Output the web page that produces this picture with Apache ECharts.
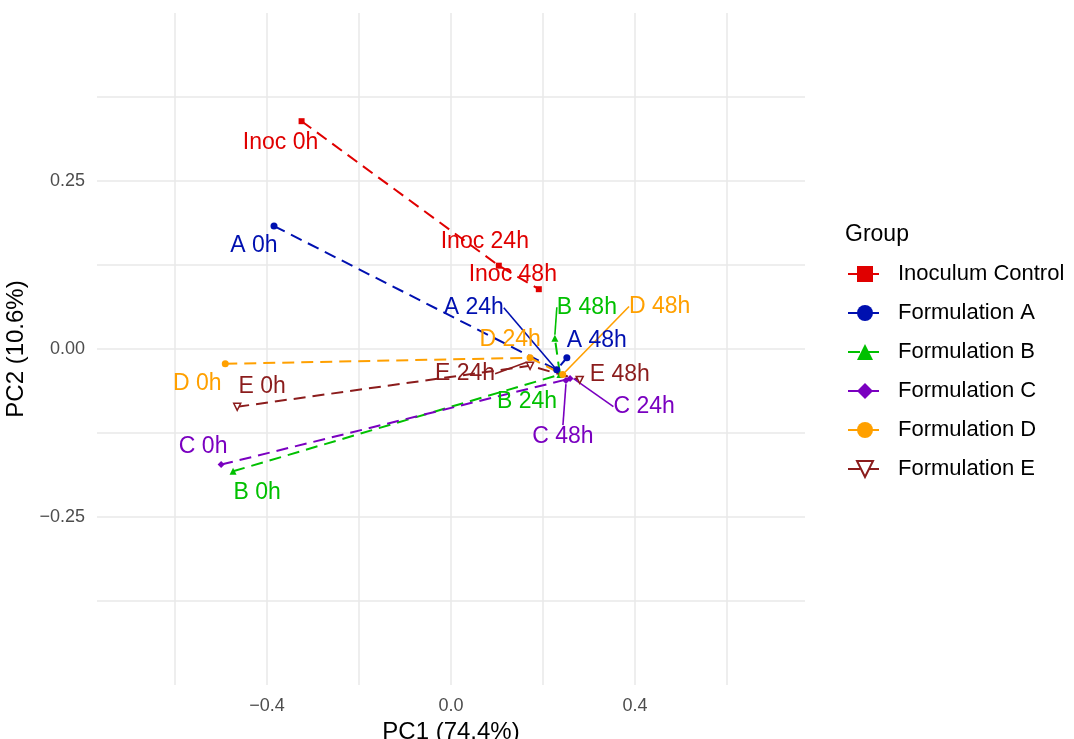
<!DOCTYPE html>
<html style="height: 100%">

<head>
    <meta charset="utf-8">
</head>

<body style="height: 100%; margin: 0; background: #fff">

    <div id="container" style="width: 1074px; height: 739px"></div>

    <script type="text/javascript" src="https://cdn.jsdelivr.net/npm/echarts@6/dist/echarts.min.js"></script>

    <script type="text/javascript">
        // PCA scores, points in time order 0h, 24h, 48h  [PC1, PC2]
        var groups = ['Inoculum Control', 'Formulation A', 'Formulation B', 'Formulation C', 'Formulation D', 'Formulation E'];
        var shortNames = ['Inoc', 'A', 'B', 'C', 'D', 'E'];
        var times = ['0h', '24h', '48h'];

        var inoc = [[-0.325, 0.339], [0.104, 0.124], [0.191, 0.089]];
        var formA = [[-0.385, 0.183], [0.230, -0.031], [0.252, -0.013]];
        var formB = [[-0.474, -0.182], [0.237, -0.038], [0.226, 0.016]];
        var formC = [[-0.500, -0.172], [0.259, -0.044], [0.250, -0.047]];
        var formD = [[-0.491, -0.022], [0.172, -0.013], [0.243, -0.038]];
        var formE = [[-0.465, -0.086], [0.172, -0.025], [0.280, -0.046]];
        var scores = [inoc, formA, formB, formC, formD, formE];

        // styling
        var colors = ['#E00000', '#0010B0', '#00C000', '#7A00C0', '#FFA000', '#8B1C1C'];
        var symbols = ['rect', 'circle', 'triangle', 'diamond', 'circle', 'triangle'];

        // label placement (pixel offsets from the point, like ggrepel) and which ones get a segment
        var labelOffsets = [
            [[-21, 21], [-14, -24], [-26, -15]],
            [[-20, 20], [-83, -62], [30, -17]],
            [[24, 21], [-33, 27], [32, -31]],
            [[-18, -18], [74, 28], [-3, 56]],
            [[-28, 20], [-20, -18], [97, -68]],
            [[25, -20], [-65, 8], [40, -5]]
        ];
        var leaders = [
            [false, false, false],
            [false, true, false],
            [false, false, true],
            [false, true, true],
            [false, false, true],
            [false, true, false]
        ];

        var fontFamily = '"Liberation Sans", Arial, Helvetica, sans-serif';

        var dom = document.getElementById('container');
        var myChart = echarts.init(dom, null, { renderer: 'canvas' });

        var series = groups.map(function (name, i) {
            var hollow = i === 5;
            return {
                name: name,
                type: 'line',
                data: scores[i].map(function (p, j) {
                    return {
                        value: p,
                        labelLine: { show: leaders[i][j] }
                    };
                }),
                symbol: symbols[i],
                symbolSize: i === 0 ? 6 : 7,
                symbolRotate: hollow ? 180 : 0,
                showSymbol: true,
                showAllSymbol: true,
                itemStyle: hollow ? { color: '#fff', borderColor: colors[i], borderWidth: 1.5 } : { color: colors[i] },
                lineStyle: { color: colors[i], width: 2, type: [12, 7] },
                label: {
                    show: true,
                    position: 'inside',
                    color: colors[i],
                    fontSize: 23,
                    fontFamily: fontFamily,
                    formatter: function (p) {
                        return shortNames[i] + ' ' + times[p.dataIndex];
                    }
                },
                labelLine: {
                    show: false,
                    lineStyle: { color: colors[i], width: 1.6 }
                },
                labelLayout: function (p) {
                    var o = labelOffsets[i][p.dataIndex];
                    return { dx: o[0], dy: o[1] };
                },
                emphasis: { disabled: true },
                z: 2
            };
        });

        function fmtX(v) {
            var r = Math.round(v * 10);
            if (Math.abs(v * 10 - r) > 1e-6 || r % 4 !== 0) return '';
            if (r === 0) return '0.0';
            return (r < 0 ? '\u2212' : '') + Math.abs(v).toFixed(1);
        }

        function fmtY(v) {
            var r = Math.round(v * 8);
            if (Math.abs(v * 8 - r) > 1e-6 || r % 2 !== 0 || Math.abs(r) >= 4) return '';
            if (r === 0) return '0.00';
            return (r < 0 ? '\u2212' : '') + Math.abs(v).toFixed(2);
        }

        var gridLine = { show: true, lineStyle: { color: '#E8E8E8', width: 1.5 } };

        var option = {
            backgroundColor: '#fff',
            animation: false,
            textStyle: { fontFamily: fontFamily },
            title: {
                text: 'Group',
                left: 840,
                top: 218,
                textStyle: { fontSize: 23, fontWeight: 'normal', color: '#000', fontFamily: fontFamily }
            },
            legend: {
                data: groups,
                orient: 'vertical',
                left: 842,
                top: 258,
                itemWidth: 34,
                itemHeight: 20,
                itemGap: 17,
                textStyle: { fontSize: 22, color: '#000', fontFamily: fontFamily, padding: [0, 0, 0, 11] }
            },
            grid: {
                left: 97,
                right: 269,
                top: 13,
                bottom: 54,
                outerBoundsMode: 'none'
            },
            xAxis: {
                type: 'value',
                min: -0.77,
                max: 0.77,
                splitNumber: 8,
                name: 'PC1 (74.4%)',
                nameLocation: 'middle',
                nameGap: 30,
                nameTextStyle: { fontSize: 24, color: '#000', fontFamily: fontFamily },
                axisLine: { show: false },
                axisTick: { show: false },
                axisLabel: { formatter: fmtX, color: '#4D4D4D', fontSize: 18, margin: 12, fontFamily: fontFamily },
                splitLine: Object.assign({ showMinLine: false, showMaxLine: false }, gridLine)
            },
            yAxis: {
                type: 'value',
                min: -0.5,
                max: 0.5,
                interval: 0.125,
                name: 'PC2 (10.6%)',
                nameLocation: 'middle',
                nameGap: 57,
                nameTextStyle: { fontSize: 24, color: '#000', fontFamily: fontFamily },
                axisLine: { show: false },
                axisTick: { show: false },
                axisLabel: { formatter: fmtY, color: '#4D4D4D', fontSize: 18, margin: 12, fontFamily: fontFamily },
                splitLine: Object.assign({ showMinLine: false, showMaxLine: false }, gridLine)
            },
            series: series
        };

        myChart.setOption(option);
    </script>
</body>

</html>
